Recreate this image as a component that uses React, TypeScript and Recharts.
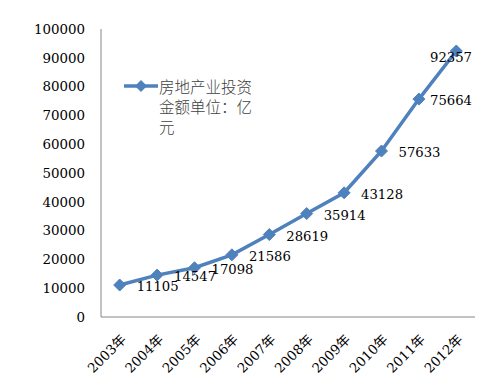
import React from "react";
import { LineChart, Line, XAxis, YAxis, LabelList } from "recharts";

const years = ["2003年", "2004年", "2005年", "2006年", "2007年", "2008年", "2009年", "2010年", "2011年", "2012年"];
const investment = [11105, 14547, 17098, 21586, 28619, 35914, 43128, 57633, 75664, 92357];
const yTicks = [0, 10000, 20000, 30000, 40000, 50000, 60000, 70000, 80000, 90000, 100000];
const seriesName = "房地产业投资金额单位：亿元";

const data = years.map((year, i) => ({ year, value: investment[i] }));

const BLUE = "#4F81BD";
const SERIF = "'DejaVu Serif', 'Noto Sans CJK SC', serif";

const Diamond = (props: any) => {
  const { cx, cy } = props;
  if (cx == null || cy == null) return null;
  const r = 6;
  return (
    <polygon
      points={`${cx},${cy - r} ${cx + r},${cy} ${cx},${cy + r} ${cx - r},${cy}`}
      fill={BLUE}
      stroke={BLUE}
    />
  );
};

const XTick = (props: any) => {
  const { x, y, payload } = props;
  const tx = x + 4;
  const ty = y + 12;
  return (
    <text
      x={tx}
      y={ty}
      transform={`rotate(-45 ${tx} ${ty})`}
      textAnchor="end"
      dominantBaseline="central"
      fontFamily={SERIF}
      fontSize={13.4}
      fill="#000"
    >
      {payload.value}
    </text>
  );
};

const ValueLabel = (props: any) => {
  const { x, y, value, index } = props;
  const last = index === investment.length - 1;
  return (
    <text
      x={Math.min(x + 17, 430)}
      y={last ? y + 6 : y + 1.5}
      dominantBaseline="central"
      fontFamily={SERIF}
      fontSize={13.2}
      fill="#000"
    >
      {value}
    </text>
  );
};

const LegendBox = () => (
  <div style={{ position: "absolute", left: 123, top: 76, display: "flex", alignItems: "flex-start" }}>
    <svg width={36} height={20} style={{ flex: "none" }}>
      <line x1={1} y1={10} x2={35} y2={10} stroke={BLUE} strokeWidth={3.5} />
      <polygon points="18,4 24,10 18,16 12,10" fill={BLUE} />
    </svg>
    <div
      style={{
        width: 98,
        fontFamily: "'Noto Sans CJK SC', sans-serif",
        fontSize: 15.5,
        lineHeight: "20px",
        color: "#404040",
        fontWeight: 300,
        wordBreak: "break-all",
      }}
    >
      {seriesName}
    </div>
  </div>
);

export default function App() {
  return (
    <div style={{ position: "absolute", left: 0, top: 0, width: 492, height: 390, background: "#fff" }}>
      <LineChart width={492} height={390} data={data} margin={{ top: 29, right: 17, bottom: 0, left: 0 }}>
        <XAxis
          dataKey="year"
          interval={0}
          height={73}
          padding={{ left: 18.7, right: 18.7 }}
          tick={<XTick />}
          tickLine={false}
          axisLine={{ stroke: "#868686" }}
        />
        <YAxis
          width={101}
          domain={[0, 100000]}
          ticks={yTicks}
          interval={0}
          tickLine={false}
          axisLine={{ stroke: "#868686" }}
          tick={{ fontFamily: SERIF, fontSize: 13.4, fill: "#000" }}
          tickMargin={10}
        />
        <Line
          dataKey="value"
          name={seriesName}
          stroke={BLUE}
          strokeWidth={3.5}
          dot={<Diamond />}
          activeDot={false}
          isAnimationActive={false}
        >
          <LabelList dataKey="value" content={<ValueLabel />} />
        </Line>
      </LineChart>
      <LegendBox />
    </div>
  );
}
